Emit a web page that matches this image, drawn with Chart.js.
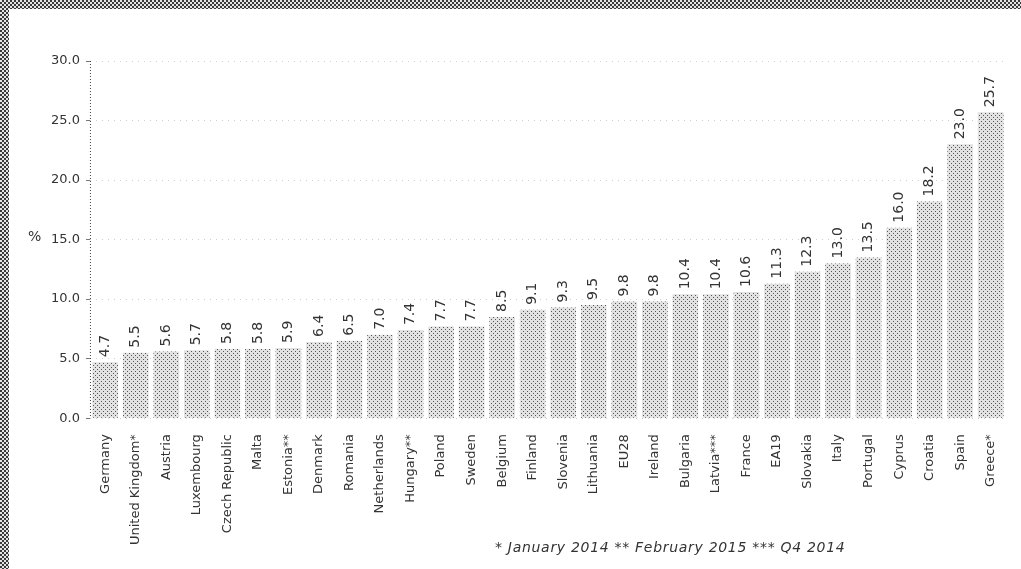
<!DOCTYPE html>
<html>
<head>
<meta charset="utf-8">
<title>Unemployment rates</title>
<script src="https://cdn.jsdelivr.net/npm/chart.js@4.4.1/dist/chart.umd.min.js"></script>
<style>
  html, body { margin: 0; padding: 0; }
  body {
    width: 1021px;
    height: 569px;
    overflow: hidden;
    position: relative;
    background: repeating-conic-gradient(#3a3a3a 0 25%, #e4e4e4 0 50%) 0 0 / 4px 4px;
  }
  #frame { position: absolute; left: 9px; top: 9px; right: 0; bottom: 0; background: #fff; }
  #chartBox { position: absolute; left: 0; top: 0; width: 1012px; height: 560px; }
  #unit { position: absolute; left: 19px; top: 219px; font: 14px "DejaVu Sans", sans-serif; color: #333; }
  #note { position: absolute; left: 486px; top: 530px; font: italic 14px "DejaVu Sans", sans-serif; letter-spacing: 0.7px; color: #333; white-space: nowrap; }
</style>
</head>
<body>
<div id="frame">
  <div id="chartBox"><canvas id="rateChart"></canvas></div>
  <div id="unit">%</div>
  <div id="note">* January 2014 ** February 2015 *** Q4 2014</div>
</div>
<script>
// Countries, sorted by rate
const countries = [
  "Germany", "United Kingdom*", "Austria", "Luxembourg", "Czech Republic",
  "Malta", "Estonia**", "Denmark", "Romania", "Netherlands",
  "Hungary**", "Poland", "Sweden", "Belgium", "Finland",
  "Slovenia", "Lithuania", "EU28", "Ireland", "Bulgaria",
  "Latvia***", "France", "EA19", "Slovakia", "Italy",
  "Portugal", "Cyprus", "Croatia", "Spain", "Greece*"
];

// Unemployment rate, %
const rates = [
  4.7, 5.5, 5.6, 5.7, 5.8,
  5.8, 5.9, 6.4, 6.5, 7.0,
  7.4, 7.7, 7.7, 8.5, 9.1,
  9.3, 9.5, 9.8, 9.8, 10.4,
  10.4, 10.6, 11.3, 12.3, 13.0,
  13.5, 16.0, 18.2, 23.0, 25.7
];

// Y axis range and step
const yMin = 0;
const yMax = 30;
const yStep = 5;

const textColor = '#333';
const fontFamily = '"DejaVu Sans", sans-serif';

// Small dotted fill for the bars
function dotPattern() {
  const c = document.createElement('canvas');
  c.width = 4;
  c.height = 4;
  const g = c.getContext('2d');
  g.fillStyle = '#e2e2e2';
  g.fillRect(0, 0, 4, 4);
  g.fillStyle = '#555';
  g.fillRect(0, 0, 1, 1);
  g.fillRect(2, 2, 1, 1);
  return g.createPattern(c, 'repeat');
}

// Rotated value above each bar
const valueLabels = {
  id: 'valueLabels',
  afterDatasetsDraw(chart) {
    const ctx = chart.ctx;
    const meta = chart.getDatasetMeta(0);
    ctx.save();
    ctx.fillStyle = textColor;
    ctx.font = '14px ' + fontFamily;
    ctx.textAlign = 'left';
    ctx.textBaseline = 'middle';
    meta.data.forEach((bar, i) => {
      ctx.save();
      ctx.translate(bar.x, bar.y - 5);
      ctx.rotate(-Math.PI / 2);
      ctx.fillText(rates[i].toFixed(1), 0, 0);
      ctx.restore();
    });
    ctx.restore();
  }
};

// Dotted vertical axis line
const dottedAxis = {
  id: 'dottedAxis',
  afterDraw(chart) {
    const { ctx, chartArea } = chart;
    ctx.save();
    ctx.strokeStyle = '#444';
    ctx.lineWidth = 1;
    ctx.setLineDash([1, 2]);
    ctx.beginPath();
    ctx.moveTo(chartArea.left + 0.5, chartArea.top);
    ctx.lineTo(chartArea.left + 0.5, chartArea.bottom);
    ctx.stroke();
    ctx.restore();
  }
};

const ctx = document.getElementById('rateChart').getContext('2d');
new Chart(ctx, {
  type: 'bar',
  data: {
    labels: countries,
    datasets: [{
      data: rates,
      backgroundColor: dotPattern(),
      borderWidth: 0,
      barPercentage: 0.84,
      categoryPercentage: 1.0
    }]
  },
  options: {
    responsive: true,
    maintainAspectRatio: false,
    animation: false,
    layout: {
      padding: { top: 52, left: 36, right: 15, bottom: 16 }
    },
    plugins: {
      legend: { display: false },
      tooltip: { enabled: false }
    },
    scales: {
      x: {
        grid: { display: false },
        border: { display: false },
        ticks: {
          autoSkip: false,
          maxRotation: 90,
          minRotation: 90,
          padding: 8,
          color: textColor,
          font: { family: fontFamily, size: 13 }
        }
      },
      y: {
        min: yMin,
        max: yMax,
        grid: {
          color: '#d0d0d0',
          tickLength: 4,
          tickColor: '#777'
        },
        border: { display: false, dash: [1, 5] },
        ticks: {
          stepSize: yStep,
          padding: 6,
          color: textColor,
          font: { family: fontFamily, size: 13 },
          callback: value => value.toFixed(1)
        }
      }
    }
  },
  plugins: [valueLabels, dottedAxis]
});
</script>
</body>
</html>
